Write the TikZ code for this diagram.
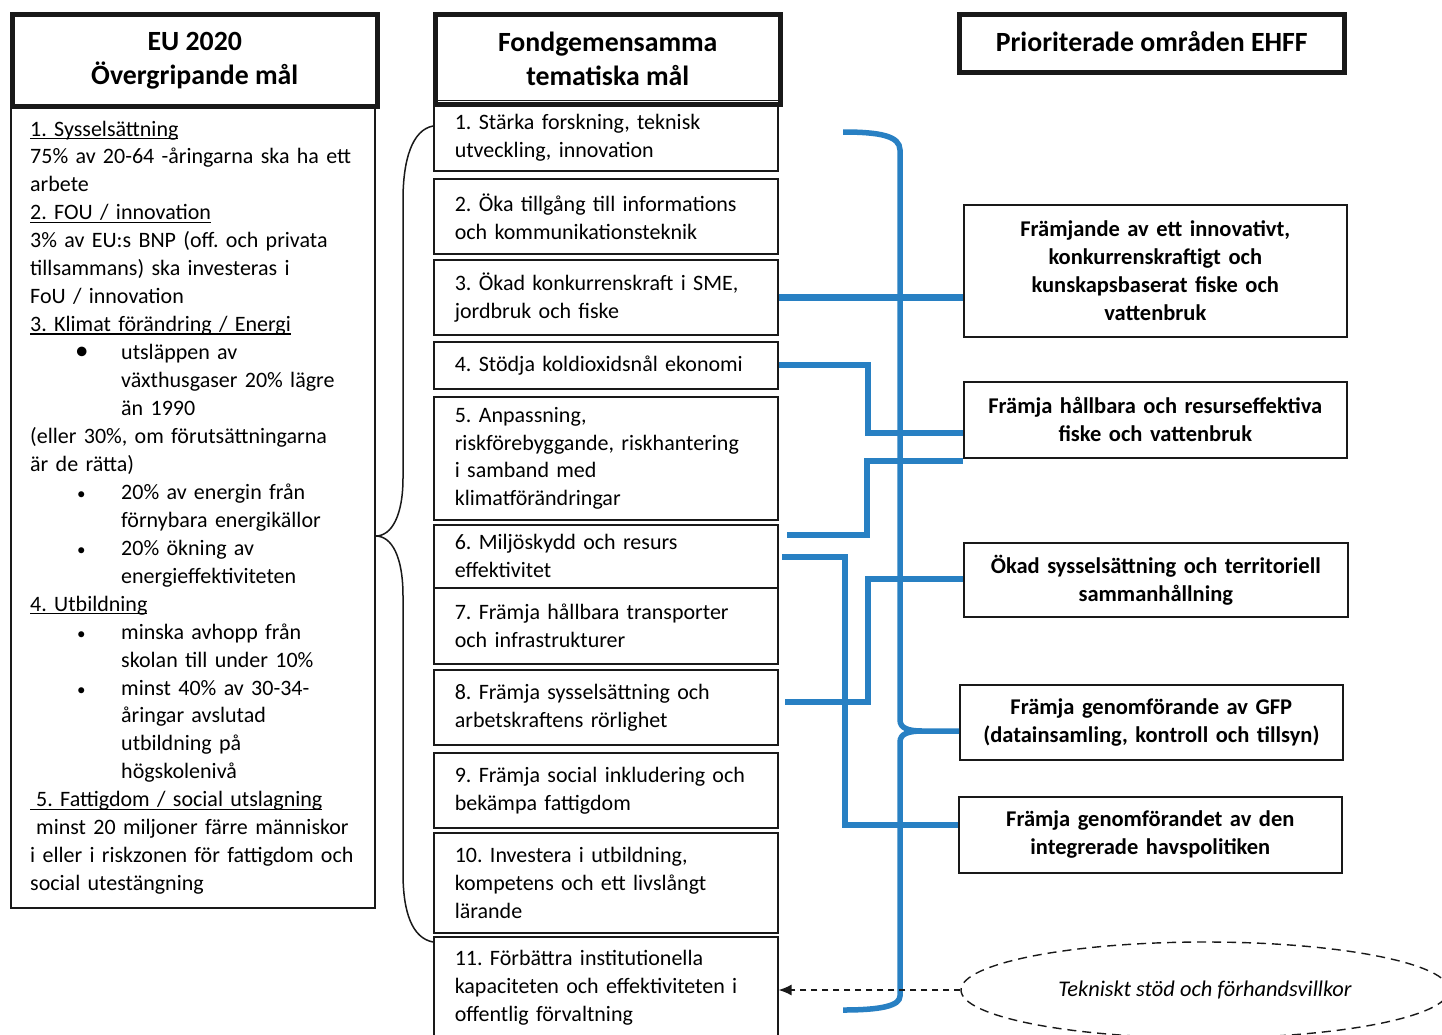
\documentclass[tikz,border=0pt]{standalone}
\usepackage{fontspec}
\setmainfont{Carlito}
\usetikzlibrary{shapes.geometric,arrows.meta}
\definecolor{linkblue}{RGB}{40,128,195}
\definecolor{edge}{RGB}{25,25,25}
\frenchspacing
\newcommand\myul[1]{\leavevmode\setbox0\hbox{#1}\rlap{\rule[-3pt]{\wd0}{1.2pt}}\box0}
\newcommand\bodysize{\fontsize{22.0}{27.95}\selectfont}
\newcommand\boldsize{\fontsize{22.5}{27.9}\selectfont}
\newcommand\headsize{\fontsize{27.8}{34}\selectfont}
\newcommand\bulbig{\hspace*{45pt}\makebox[46pt][l]{\fontsize{27}{27}\selectfont •}}
\newcommand\bulsmall{\hspace*{47pt}\makebox[44pt][l]{\fontsize{17}{17}\selectfont •}}
\newcommand\bulind{\hspace*{91pt}}
\begin{document}
\begin{tikzpicture}[x=1pt,y=-1pt,
  thinbox/.style={draw=edge, line width=1.6pt, rectangle, inner ysep=0pt},
  thickbox/.style={draw=edge, line width=4.5pt, rectangle, inner sep=0pt, anchor=north west},
  midbox/.style={thinbox, anchor=north west, text width=302pt, inner xsep=21pt, align=left, font=\bodysize},
  prbox/.style={thinbox, anchor=north west, text width=370pt, inner xsep=0pt, minimum width=383pt, align=center, font=\boldsize\bfseries},
  headtext/.style={font=\headsize\bfseries, align=center},
  bl/.style={draw=linkblue, line width=6pt},
]
\useasboundingbox (0,0) rectangle (1442,1034);
\fill[white] (0,0) rectangle (1442,1034);

% ---------- left column ----------
\node[thickbox, minimum width=365pt, minimum height=92pt, headtext] (lh) at (10,12) {EU 2020\\Övergripande mål};
\node[thinbox, anchor=north west, minimum width=364pt, minimum height=803pt, inner sep=0pt] (lb) at (10,104) {};
\node[anchor=base west, text width=340pt, align=left, inner sep=0pt, font=\bodysize] (lt) at (30,136) {%
\myul{1. Sysselsättning}\\
75\% av 20-64 -åringarna ska ha ett\\
arbete\\
\myul{2. FOU / innovation}\\
3\% av EU:s BNP (off. och privata\\
tillsammans) ska investeras i\\
FoU / innovation\\
\myul{3. Klimat förändring / Energi}\\
\bulbig utsläppen av\\
\bulind växthusgaser 20\% lägre\\
\bulind än 1990\\
(eller 30\%, om förutsättningarna\\
är de rätta)\\
\bulsmall 20\% av energin från\\
\bulind förnybara energikällor\\
\bulsmall 20\% ökning av\\
\bulind energieffektiviteten\\
\myul{4. Utbildning}\\
\bulsmall minska avhopp från\\
\bulind skolan till under 10\%\\
\bulsmall minst 40\% av 30-34-\\
\bulind åringar avslutad\\
\bulind utbildning på\\
\bulind högskolenivå\\
\myul{\hspace*{6pt}5. Fattigdom / social utslagning}\\
\hspace*{6pt}minst 20 miljoner färre människor\\
i eller i riskzonen för fattigdom och\\
social utestängning};

% ---------- middle column ----------
\node[thickbox, minimum width=345pt, minimum height=90pt, headtext] (mh) at (433,12) {Fondgemensamma\\tematiska mål};
\draw[edge, line width=1.2pt] ([yshift=6pt]mh.south west) -- ([yshift=6pt]mh.south east);

\node[midbox, minimum height=66pt]  (m1)  at (433,104) {1. Stärka forskning, teknisk\\utveckling, innovation};
\node[midbox, minimum height=75pt]  (m2)  at (433,178) {2. Öka tillgång till informations\\och kommunikationsteknik};
\node[midbox, minimum height=75pt]  (m3)  at (433,259) {3. Ökad konkurrenskraft i SME,\\jordbruk och fiske};
\node[midbox, minimum height=47pt]  (m4)  at (433,341) {4. Stödja koldioxidsnål ekonomi};
\node[midbox, minimum height=123pt] (m5)  at (433,396) {5. Anpassning,\\riskförebyggande, riskhantering\\i samband med\\klimatförändringar};
\node[midbox, minimum height=63pt]  (m6)  at (433,524) {6. Miljöskydd och resurs\\effektivitet};
\node[midbox, minimum height=76pt]  (m7)  at (433,587) {7. Främja hållbara transporter\\och infrastrukturer};
\node[midbox, minimum height=75pt]  (m8)  at (433,669) {8. Främja sysselsättning och\\arbetskraftens rörlighet};
\node[midbox, minimum height=75pt]  (m9)  at (433,752) {9. Främja social inkludering och\\bekämpa fattigdom};
\node[midbox, minimum height=100pt] (m10) at (433,832) {10. Investera i utbildning,\\kompetens och ett livslångt\\lärande};
\node[midbox, minimum height=101pt] (m11) at (433,936) {11. Förbättra institutionella\\kapaciteten och effektiviteten i\\offentlig förvaltning};

% ---------- right column ----------
\node[thickbox, minimum width=385pt, minimum height=58pt, headtext] (rh) at (957,12) {\raisebox{3pt}{Prioriterade områden EHFF}};
\node[prbox, minimum height=132pt] (r1) at (963,204) {Främjande av ett innovativt,\\konkurrenskraftigt och\\kunskapsbaserat fiske och\\vattenbruk};
\node[prbox, minimum height=76pt] (r2) at (963,381) {Främja hållbara och resurseffektiva\\fiske och vattenbruk};
\node[prbox, minimum height=74pt, minimum width=384pt] (r3) at (963,542) {Ökad sysselsättning och territoriell\\sammanhållning};
\node[prbox, minimum height=75pt] (r4) at (959,684) {Främja genomförande av GFP\\(datainsamling, kontroll och tillsyn)};
\node[prbox, minimum height=76pt] (r5) at (958,796) {Främja genomförandet av den\\integrerade havspolitiken};

\node[ellipse, draw=edge, dash pattern=on 9pt off 6pt, line width=1.4pt, minimum width=488pt, minimum height=96pt, inner sep=0pt, font=\fontsize{22.4}{27}\selectfont\itshape] (ell) at (1205,990) {Tekniskt stöd och förhandsvillkor};

% ---------- black brace ----------
\coordinate (lbtop) at (433,126);
\coordinate (lbtip) at (lb.east |- 0,536);
\coordinate (lbbot) at (433,942);
\draw[edge, line width=1.5pt] (lbtop) .. controls (412,130) and (403,160) .. (403,200) -- (403,478)
  .. controls (403,515) and (392,536) .. (lbtip)
  .. controls (392,536) and (403,557) .. (403,596) -- (403,873)
  .. controls (403,912) and (412,938) .. (lbbot);

% ---------- blue connectors ----------
\coordinate (btop) at (843,132);
\coordinate (bbot) at (843,1010);
\coordinate (tipy) at (0,731);
\coordinate (notch) at (922,731);
\draw[bl, line width=5.5pt] (btop) .. controls (880,132) and (900,136) .. (900,150) -- (900,720)
  .. controls (900,728) and (908,731) .. (notch) -- (r4.west |- tipy);
\draw[bl, line width=5.5pt] (notch) .. controls (908,731) and (900,734) .. (900,742) -- (900,996)
  .. controls (900,1006) and (880,1010) .. (bbot);

\draw[bl, line width=7pt] (m3.east) -- (r1.west |- m3.east);

\coordinate (b1) at (868,433);
\draw[bl] (m4.east) -| (b1) -- (r2.west |- b1);

\coordinate (c0) at (787,535);
\coordinate (c1) at (867,461);
\draw[bl] (c0) -| (c1) -- (r2.south west |- c1);

\coordinate (d0) at (782,557);
\coordinate (d1) at (845,825);
\draw[bl] (d0) -| (d1) -- (r5.west |- d1);

\coordinate (e0) at (785,702);
\coordinate (e1) at (868,579);
\draw[bl] (e0) -| (e1) -- (r3.west |- e1);

% ---------- dashed arrow ----------
\draw[edge, line width=1.3pt, dash pattern=on 6pt off 5pt, -{Latex[length=13pt,width=11pt]}] (ell.west) -- (m11.east |- ell.west);
\end{tikzpicture}
\end{document}
